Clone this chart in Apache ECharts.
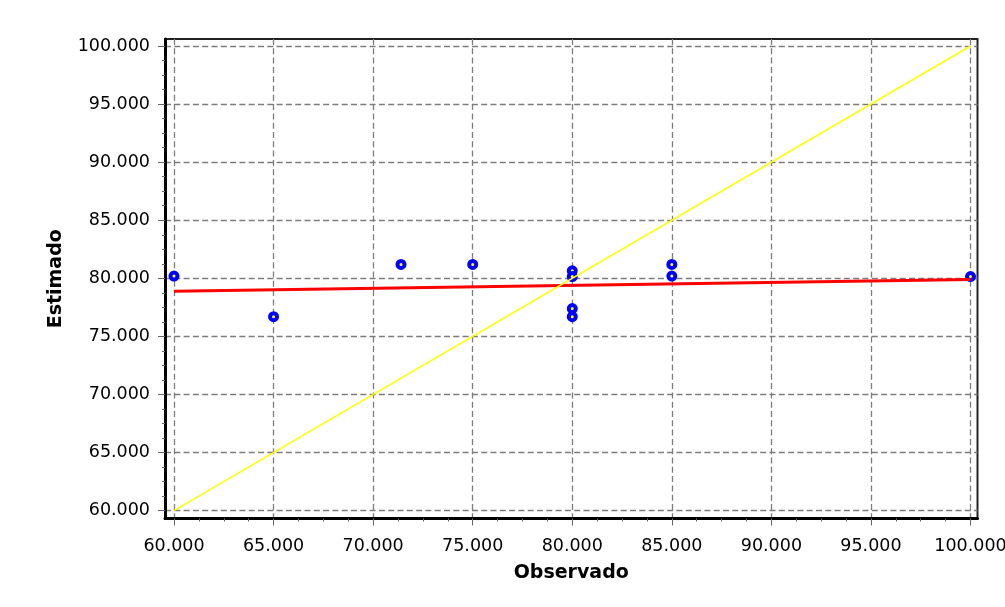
<!DOCTYPE html>
<html><head><meta charset="utf-8">
<script src="https://cdn.jsdelivr.net/npm/echarts@6/dist/echarts.min.js"></script>
<style>html,body{margin:0;padding:0;background:#fff}#c{width:1005px;height:607px}</style>
</head><body><div id="c"></div>
<script>
// Observed vs estimated points
const observed  = [60, 65, 71.4, 75, 80, 80, 80, 80, 85, 85, 100];
const estimated = [80.2, 76.7, 81.2, 81.2, 80.65, 80.15, 77.4, 76.7, 81.2, 80.2, 80.15];
// fitted (red) line end points
const fitX = [60, 100];
const fitY = [78.9, 79.9];
// identity (yellow) line end points
const identityX = [60, 100];
const identityY = [60, 100];
// tick labels
const xTicks = [60, 65, 70, 75, 80, 85, 90, 95, 100];
const yTicks = [60, 65, 70, 75, 80, 85, 90, 95, 100];
const minorSplit = 4;

function minors(ticks) {
  const out = [];
  for (let i = 0; i < ticks.length - 1; i++) {
    const step = (ticks[i + 1] - ticks[i]) / minorSplit;
    for (let k = 1; k < minorSplit; k++) out.push(ticks[i] + step * k);
  }
  return out;
}
const xMinor = minors(xTicks);
const yMinor = minors(yTicks);

const FONT = 'DejaVu Sans';
const gridLine = { show: true, lineStyle: { color: '#7d7d7d', width: 1.3, type: [6, 3.3] } };
const labelStyle = { fontFamily: FONT, fontSize: 17.5, color: '#000' };
const nameStyle = { fontFamily: FONT, fontSize: 19, fontWeight: 'bold', color: '#000' };
const X_MIN = 59.548, X_MAX = 100.35, Y_MIN = 59.329, Y_MAX = 100.602;

const chart = echarts.init(document.getElementById('c'), null, { renderer: 'canvas' });
chart.setOption({
  animation: false,
  backgroundColor: '#fff',
  grid: {
    left: 165, top: 39, right: 27.5, bottom: 88.5,
    show: true, borderColor: '#222', borderWidth: 2, backgroundColor: 'transparent',
    containLabel: false, outerBoundsMode: 'none'
  },
  xAxis: [{
    type: 'value', min: X_MIN, max: X_MAX, position: 'bottom',
    axisLine: { show: true, onZero: false, lineStyle: { color: '#000', width: 3 } },
    axisTick: { show: true, inside: false, length: 7, customValues: xTicks, lineStyle: { color: '#666', width: 1 } },
    axisLabel: Object.assign({ customValues: xTicks, margin: 19, formatter: v => Number(v).toFixed(3) }, labelStyle),
    splitLine: gridLine,
    minorTick: { show: false },
    name: 'Observado', nameLocation: 'middle', nameGap: 45, nameTextStyle: nameStyle
  }, {
    type: 'value', min: X_MIN, max: X_MAX, position: 'bottom', gridIndex: 0,
    axisLine: { show: false, onZero: false },
    axisTick: { show: true, inside: false, length: 3, customValues: xMinor, lineStyle: { color: '#666', width: 1 } },
    axisLabel: { show: false },
    splitLine: { show: false }
  }],
  yAxis: [{
    type: 'value', min: Y_MIN, max: Y_MAX, position: 'left',
    axisLine: { show: true, onZero: false, lineStyle: { color: '#000', width: 3 } },
    axisTick: { show: true, inside: false, length: 7, customValues: yTicks, lineStyle: { color: '#666', width: 1 } },
    axisLabel: Object.assign({ customValues: yTicks, margin: 15, formatter: v => Number(v).toFixed(3) }, labelStyle),
    splitLine: gridLine,
    minorTick: { show: false },
    name: 'Estimado', nameLocation: 'middle', nameGap: 99, nameRotate: 90, nameTextStyle: nameStyle
  }, {
    type: 'value', min: Y_MIN, max: Y_MAX, position: 'left', gridIndex: 0,
    axisLine: { show: false, onZero: false },
    axisTick: { show: true, inside: false, length: 3, customValues: yMinor, lineStyle: { color: '#666', width: 1 } },
    axisLabel: { show: false },
    splitLine: { show: false }
  }],
  series: [{
    type: 'scatter', name: 'points',
    data: observed.map((x, i) => [x, estimated[i]]),
    symbol: 'circle', symbolSize: 7,
    itemStyle: { color: '#ffff00', borderColor: '#0000ff', borderWidth: 4, opacity: 1 },
    z: 2
  }, {
    type: 'line', name: 'fit',
    data: fitX.map((x, i) => [x, fitY[i]]),
    symbol: 'none', lineStyle: { color: '#ff0000', width: 3 },
    z: 3
  }, {
    type: 'line', name: 'identity',
    data: identityX.map((x, i) => [x, identityY[i]]),
    symbol: 'none', lineStyle: { color: '#ffff00', width: 1.5 },
    z: 4
  }]
});
</script>
</body></html>
